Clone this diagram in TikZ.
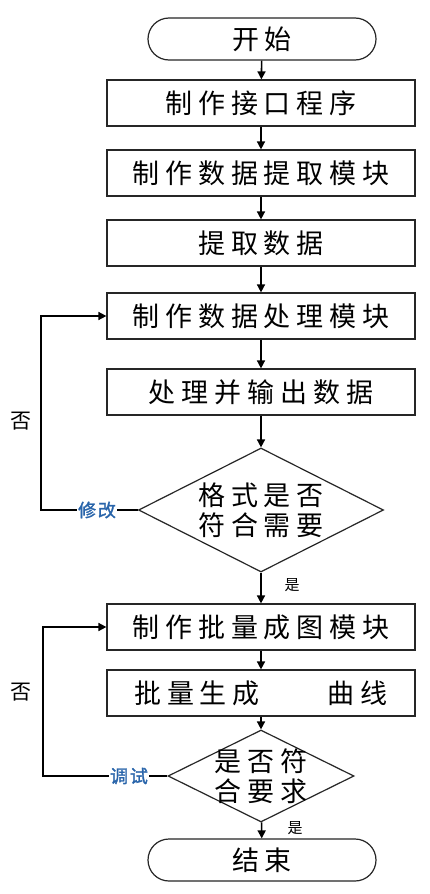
\documentclass[tikz,border=0pt]{standalone}
\usepackage{fontspec}
\usetikzlibrary{arrows.meta,shapes.geometric}
\newfontfamily\cjk[LetterSpace=22]{Noto Sans CJK SC}
\newfontfamily\cjkplain{Noto Sans CJK SC}
\newfontfamily\cjkbold[FakeBold=1.5,LetterSpace=10]{Noto Sans CJK SC}
\definecolor{labblue}{RGB}{40,100,170}
\begin{document}
\begin{tikzpicture}[x=1pt,y=-1pt,
  procbox/.style={draw=black!85,line width=1.2pt,minimum width=308pt,minimum height=46pt,inner sep=0pt,font=\cjk\fontsize{27}{31}\selectfont},
  term/.style={draw=black!85,line width=1.2pt,rounded corners=21pt,minimum width=228pt,minimum height=42pt,inner sep=0pt,font=\cjk\fontsize{27}{31}\selectfont},
  decis/.style={diamond,draw=black!85,line width=1.2pt,inner sep=0pt},
  dtext/.style={align=center,inner sep=0pt,font=\cjk\fontsize{27}{30}\selectfont},
  flow/.style={line width=1.6pt,-{Triangle[length=8pt,width=8pt]}},
  loopline/.style={line width=1.6pt},
  bluelab/.style={text=labblue,inner sep=1pt,font=\cjkbold\fontsize{18}{20}\selectfont},
  yeslab/.style={inner sep=0pt,font=\cjkplain\fontsize{15}{17}\selectfont},
  nolab/.style={inner sep=0pt,font=\cjkplain\fontsize{21}{24}\selectfont}]
\fill[white] (0,0) rectangle (430,894);
\useasboundingbox (0,0) rectangle (430,894);

\node[term] (start) at (262,39) {开始};
\node[procbox] (b1) at (261,103) {制作接口程序};
\node[procbox] (b2) at (261,173) {制作数据提取模块};
\node[procbox] (b3) at (261,243) {提取数据};
\node[procbox] (b4) at (261,316) {制作数据处理模块};
\node[procbox] (b5) at (261,392) {处理并输出数据};
\node[decis,minimum width=245pt,minimum height=124pt] (d1) at (261,510) {};
\node[dtext] (d1t) at (d1.center) {格式是否\\符合需要};
\node[procbox] (b6) at (261,627) {制作批量成图模块};
\node[procbox] (b7) at (261,693) {批量生成\hspace{68pt}曲线};
\node[decis,minimum width=186pt,minimum height=92pt] (d2) at (261,776) {};
\node[dtext] (d2t) at (d2.center) {是否符\\合要求};
\node[term] (stop) at (262,860) {结束};

\draw[flow] (start) -- (b1);
\draw[flow] (b1) -- (b2);
\draw[flow] (b2) -- (b3);
\draw[flow] (b3) -- (b4);
\draw[flow] (b4) -- (b5);
\draw[flow] (b5) -- (d1);
\draw[flow] (d1) -- (b6);
\draw[flow] (b6) -- (b7);
\draw[flow] (b7) -- (d2);
\draw[flow] (d2) -- (stop);

\node[yeslab] (yes1) at (292,585) {是};
\node[yeslab] (yes2) at (295,828) {是};

\node[bluelab] (fix) at (97,510) {修改};
\coordinate (c1) at (41,510);
\draw[loopline] (d1.west) -- (fix.east);
\draw[flow] (fix.west) -- (c1) |- (b4.west);
\node[nolab] (no1) at (21,421) {否};

\node[bluelab] (debug) at (129,776) {调试};
\coordinate (c2) at (43,776);
\draw[loopline] (d2.west) -- (debug.east);
\draw[flow] (debug.west) -- (c2) |- (b6.west);
\node[nolab] (no2) at (21,692) {否};
\end{tikzpicture}
\end{document}
